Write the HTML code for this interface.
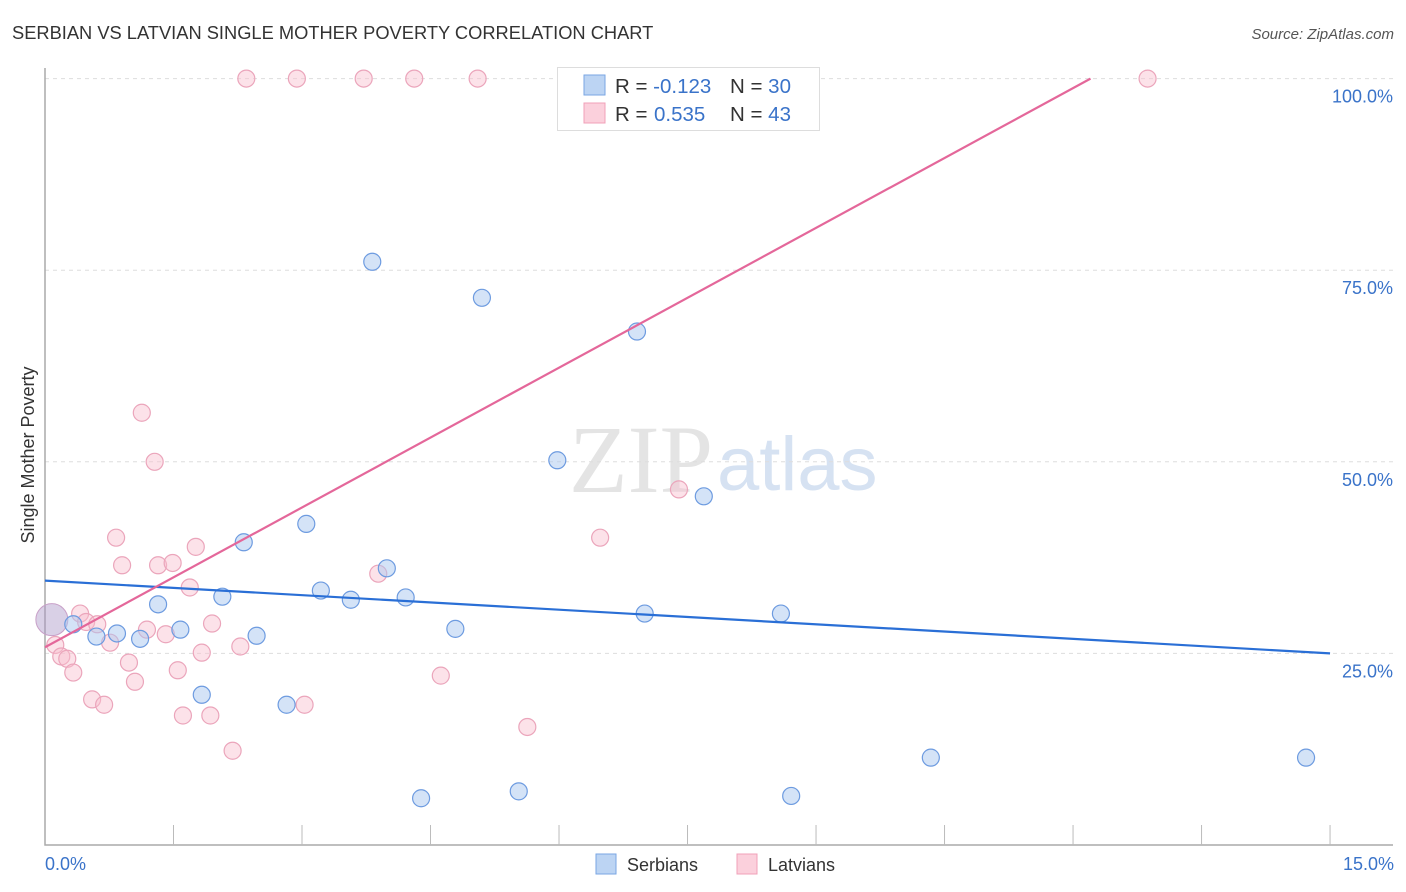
<!DOCTYPE html>
<html><head><meta charset="utf-8">
<style>
body{margin:0;background:#fff;font-family:"Liberation Sans",sans-serif;}
#wrap{position:relative;width:1406px;height:892px;overflow:hidden;}
</style></head>
<body>
<div id="wrap">
<svg id="svg" width="1406" height="892" xmlns="http://www.w3.org/2000/svg">
<text x="12" y="39" font-size="18.3" fill="#333">SERBIAN VS LATVIAN SINGLE MOTHER POVERTY CORRELATION CHART</text>
<text x="1394" y="39" font-size="15" fill="#555" font-style="italic" text-anchor="end">Source: ZipAtlas.com</text>
<text x="713" y="492" font-size="96" fill="#e4e4e4" text-anchor="end" font-family="Liberation Serif,serif">ZIP</text>
<text x="717" y="490" font-size="76" fill="#d6e2f2">atlas</text>
<text transform="translate(34,455) rotate(-90)" font-size="18" fill="#333" text-anchor="middle">Single Mother Poverty</text>
<g id="grid"></g><g id="marks"></g>
<text x="45" y="870" font-size="18" fill="#3a73c9">0.0%</text>
<text x="1394" y="870" font-size="18" fill="#3a73c9" text-anchor="end">15.0%</text>
<g>
<rect x="596" y="854" width="20" height="20" fill="#bcd4f3" stroke="#7aa6e3"/>
<text x="627" y="871" font-size="18" fill="#333">Serbians</text>
<rect x="737" y="854" width="20" height="20" fill="#fbd0dc" stroke="#f0a0b8"/>
<text x="768" y="871" font-size="18" fill="#333">Latvians</text>
</g>
<g>
<rect x="557.5" y="67.5" width="262" height="63" fill="#fff" stroke="#ddd"/>
<rect x="584" y="75" width="21" height="20" fill="#bcd4f3" stroke="#7aa6e3"/>
<rect x="584" y="103" width="21" height="20" fill="#fbd0dc" stroke="#f0a0b8"/>
<text x="615" y="93" font-size="20.5" fill="#333">R = <tspan fill="#3a73c9">-0.123</tspan><tspan x="730">N = </tspan><tspan fill="#3a73c9">30</tspan></text>
<text x="615" y="121" font-size="20.5" fill="#333">R = <tspan x="654" fill="#3a73c9">0.535</tspan><tspan x="730">N = </tspan><tspan fill="#3a73c9">43</tspan></text>
</g>
</svg>
</div>
<script>
const serbX=[0.33,0.60,0.84,1.11,1.32,1.58,1.83,2.07,2.32,2.47,2.82,3.05,3.22,3.57,3.82,3.99,4.21,4.39,4.79,5.10,5.53,5.98,6.91,7.00,7.69,8.59,8.71,10.34,14.72];
const serbY=[28.8,27.2,27.6,26.9,31.4,28.1,19.6,32.4,39.5,27.3,18.3,41.9,33.2,32.0,76.1,36.1,32.3,6.1,28.2,71.4,7.0,50.2,67.0,30.2,45.5,30.2,6.4,11.4,11.4];
const latX=[0.12,0.19,0.26,0.33,0.41,0.48,0.55,0.61,0.69,0.76,0.83,0.90,0.98,1.05,1.13,1.19,1.28,1.32,1.41,1.49,1.55,1.61,1.69,1.76,1.83,1.93,1.95,2.19,2.28,2.35,2.94,3.03,3.72,3.89,4.31,4.62,5.05,5.63,6.10,6.48,7.40,12.87];
const latY=[26.1,24.6,24.3,22.5,30.2,29.1,19.0,28.8,18.3,26.4,40.1,36.5,23.8,21.3,56.4,28.1,50.0,36.5,27.5,36.8,22.8,16.9,33.6,38.9,25.1,16.9,28.9,12.3,25.9,100,100,18.3,100,35.4,100,22.1,100,15.4,100,40.1,46.4,100];
const bigPoint=[0.08,29.4];
const serbTrend=[34.5,25.0];
const latTrend=[25.8,6.08];
const yTicks=[25,50,75,100];
const xTicks=[0,1.5,3,4.5,6,7.5,9,10.5,12,13.5,15];
const NS='http://www.w3.org/2000/svg';
const X=v=>45+v*85.67, Y=v=>845-v*7.664;
function mk(t,a,p){const e=document.createElementNS(NS,t);for(const k in a)e.setAttribute(k,a[k]);p.appendChild(e);return e;}
const grid=document.getElementById('grid'),marks=document.getElementById('marks');
yTicks.forEach(t=>{
 const l=mk('line',{x1:45,x2:1393,y1:Y(t),y2:Y(t),stroke:'#ddd','stroke-dasharray':'4,4'},grid);
 
 
 const tx=mk('text',{x:1393,y:Y(t)+24,'font-size':18,fill:'#3a73c9','text-anchor':'end'},grid);
 tx.textContent=t.toFixed(1)+'%';
 
 
});
const ax=mk('path',{d:'M45,68V845H1393',fill:'none',stroke:'#aaa','stroke-width':1.5},grid);


xTicks.slice(1).forEach(t=>{
 const l=mk('line',{x1:X(t),x2:X(t),y1:825,y2:845,stroke:'#bbb'},grid);
 
 
});
function dot(x,y,r,fill,stroke,name){const c=mk('circle',{cx:X(x),cy:Y(y),r:r,fill:fill,stroke:stroke,'stroke-width':1.2},marks);
 
 }
const b1=mk('circle',{cx:X(bigPoint[0]),cy:Y(bigPoint[1]),r:16,fill:'rgba(170,150,200,0.45)',stroke:'#c8a0c8'},marks);


latX.forEach((x,i)=>dot(x,latY[i],8.5,'rgba(248,190,206,0.45)','#eba5bb','latvian-point'));
serbX.forEach((x,i)=>dot(x,serbY[i],8.5,'rgba(170,200,240,0.5)','#6d9be0','serbian-point'));
const s=mk('line',{x1:X(0),y1:Y(serbTrend[0]),x2:X(15),y2:Y(serbTrend[1]),stroke:'#2a6fd6','stroke-width':2.2},marks);


const xe=(100-latTrend[0])/latTrend[1];
const p=mk('line',{x1:X(0),y1:Y(latTrend[0]),x2:X(xe),y2:Y(100),stroke:'#e4679a','stroke-width':2.2},marks);


</script>
</body></html>
